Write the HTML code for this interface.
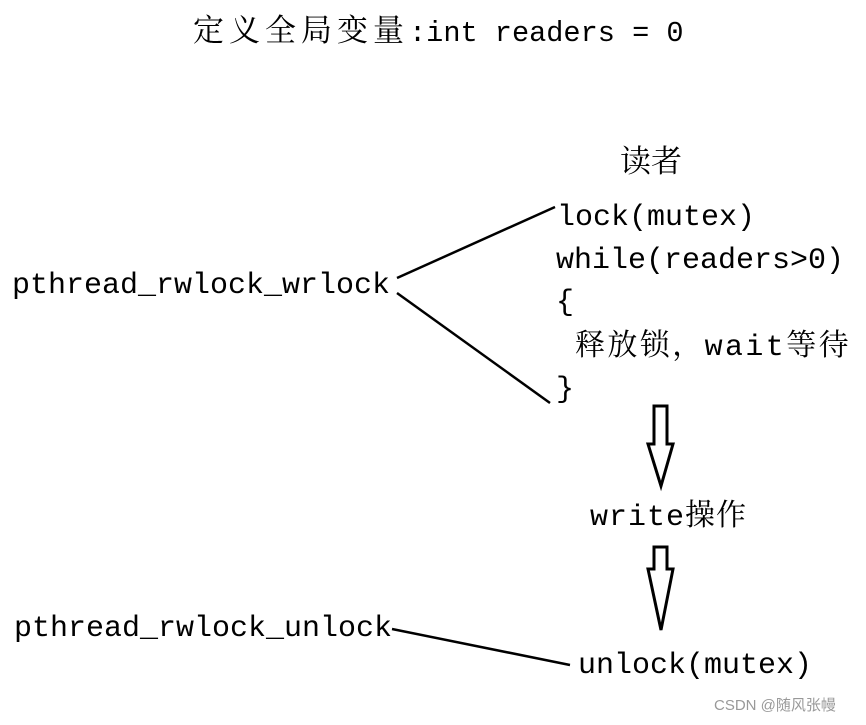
<!DOCTYPE html>
<html><head><meta charset="utf-8"><style>
body{margin:0;width:866px;height:725px;background:#fff;position:relative;overflow:hidden}
.t{position:absolute;font-family:"Liberation Mono","Noto Serif CJK SC",monospace;font-size:30px;line-height:30px;color:#000;white-space:pre}
</style></head><body>
<svg width="866" height="725" style="position:absolute;left:0;top:0">
<g stroke="#000" stroke-width="2.5" fill="none">
<line x1="397" y1="278" x2="555" y2="207"/>
<line x1="397" y1="293" x2="550" y2="403"/>
<line x1="392" y1="629" x2="570" y2="665"/>
<polygon points="654,406 667,406 667,444 673,444 661,486 648,444 654,444" stroke-width="3"/>
<polygon points="654,547 667,547 667,569 673,569 661,630 648,569 654,569" stroke-width="3"/>
</g></svg>
<div class="t" style="left:193px;top:17px;line-height:34px"><span style="font-size:31px;letter-spacing:5px">定义全局变量</span><span style="font-size:28.6px">:int readers = 0</span></div>
<div class="t" style="left:620px;top:150px;font-size:31px">读者</div>
<div class="t" style="left:557px;top:203px">lock(mutex)</div>
<div class="t" style="left:556px;top:246px">while(readers&gt;0)</div>
<div class="t" style="left:556px;top:288px">{</div>
<div class="t" style="left:575px;top:333px;letter-spacing:2.4px">释放锁，wait等待</div>
<div class="t" style="left:556px;top:375px">}</div>
<div class="t" style="left:590px;top:503px;letter-spacing:1px">write操作</div>
<div class="t" style="left:12px;top:271px">pthread_rwlock_wrlock</div>
<div class="t" style="left:14px;top:614px">pthread_rwlock_unlock</div>
<div class="t" style="left:578px;top:651px">unlock(mutex)</div>
<div class="t" style="left:714px;top:697px;font-family:'Liberation Sans','Noto Sans CJK SC',sans-serif;font-size:15px;line-height:18px;color:#999">CSDN @随风张幔</div>
</body></html>
